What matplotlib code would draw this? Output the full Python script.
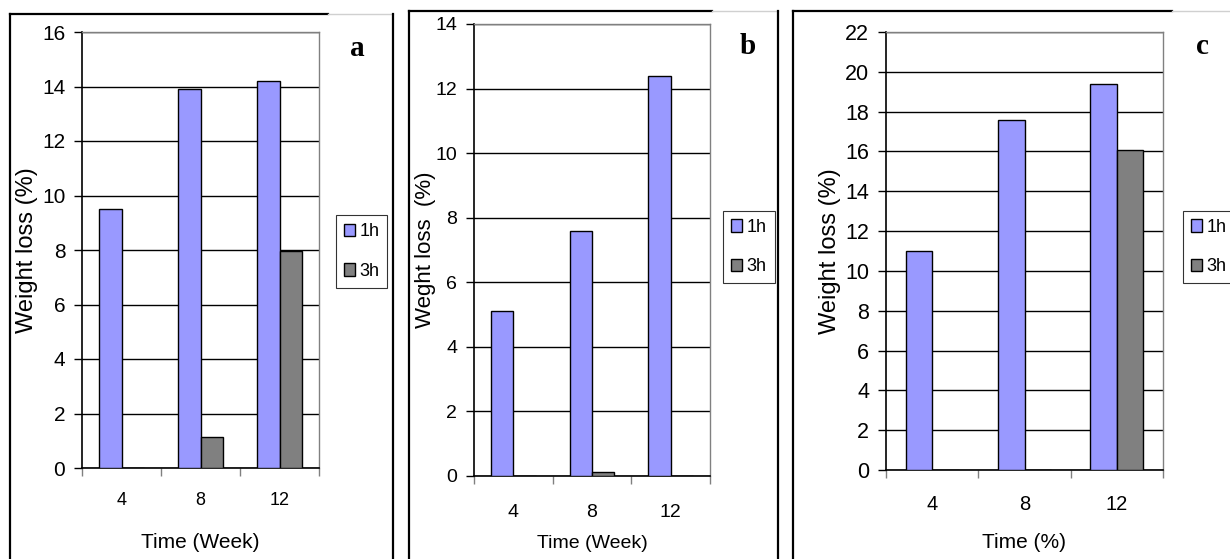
#!/usr/bin/env python3
"""Weight loss (%) vs time for three samples, panels a, b, c."""

import matplotlib

matplotlib.use("Agg")
import matplotlib.pyplot as plt
from matplotlib.lines import Line2D
from matplotlib.patches import Patch

plt.rcParams["font.family"] = ["Liberation Sans", "DejaVu Sans"]

# data
weeks = ["4", "8", "12"]
series_names = ["1h", "3h"]

a_1h = [9.5, 13.9, 14.2]
a_3h = [0.0, 1.15, 7.95]

b_1h = [5.1, 7.6, 12.4]
b_3h = [0.0, 0.12, 0.0]

c_1h = [11.0, 17.6, 19.4]
c_3h = [0.0, 0.0, 16.05]

W, H = 1230, 559
BLUE = "#9999FF"
GREY = "#808080"


def fx(px):
    return px / W


def fy(py):
    return 1 - py / H


def add_panel(fig, box, v1, v2, ymax, ylabel, xlabel, letter, letter_xy,
              legend_box, ylabel_x, xtick_y, xlabel_y, sizes):
    left, top, right, bottom = box
    ytick_fs, ylabel_fs, xtick_fs, xlabel_fs = sizes
    ax_w, ax_h = right - left, bottom - top
    ax = fig.add_axes([fx(left), fy(bottom), ax_w / W, ax_h / H])
    x = list(range(len(weeks)))
    w = 1 / 3.5
    ax.bar([i - w / 2 for i in x], v1, width=w, color=BLUE, edgecolor="black",
           linewidth=1.0, zorder=3)
    ax.bar([i + w / 2 for i in x], v2, width=w, color=GREY, edgecolor="black",
           linewidth=1.0, zorder=3)

    ax.set_xlim(-0.5, len(weeks) - 0.5)
    ax.set_ylim(0, ymax)
    ax.set_yticks(range(0, ymax + 1, 2))
    ax.yaxis.grid(True, color="black", linewidth=1.0, zorder=0)
    ax.set_axisbelow(True)

    # category boundaries get the tick marks, labels sit in between
    ax.set_xticks([i - 0.5 for i in range(len(weeks) + 1)])
    ax.set_xticklabels([])
    ax.set_xticks(x, minor=True)
    ax.set_xticklabels(weeks, minor=True)
    # pad so that tick label centres land where the reference has them
    pad_px = (xtick_y - bottom) - xtick_fs * 100 / 72 * 0.6
    ax.tick_params(axis="x", which="minor", length=0, pad=pad_px * 72 / 100,
                   labelsize=xtick_fs)
    ax.tick_params(axis="x", which="major", length=6, width=1.0, color=GREY)
    ax.tick_params(axis="y", length=6, width=1.0, labelsize=ytick_fs, pad=6)

    for side in ("top", "right"):
        ax.spines[side].set_color(GREY)
        ax.spines[side].set_linewidth(1.0)
    for side in ("left", "bottom"):
        ax.spines[side].set_color("black")
        ax.spines[side].set_linewidth(1.2)

    ax.set_ylabel(ylabel, fontsize=ylabel_fs, va="center")
    ax.yaxis.set_label_coords((ylabel_x - left) / ax_w, 0.5)
    ax.set_xlabel(xlabel, fontsize=xlabel_fs, va="center")
    ax.xaxis.set_label_coords(0.5, (bottom - xlabel_y) / ax_h)

    fig.text(fx(letter_xy[0]), fy(letter_xy[1]), letter, family="Liberation Serif",
             fontweight="bold", fontsize=21, ha="center", va="center")

    handles = [Patch(facecolor=BLUE, edgecolor="black"),
               Patch(facecolor=GREY, edgecolor="black")]
    lx0, ly0, lx1, ly1 = legend_box
    leg = fig.legend(handles, series_names, loc="center",
                     bbox_to_anchor=(fx((lx0 + lx1) / 2), fy((ly0 + ly1) / 2)),
                     fontsize=13, frameon=True, fancybox=False, handlelength=0.6,
                     handleheight=0.7, handletextpad=0.25, labelspacing=1.25,
                     borderpad=0.45, borderaxespad=0)
    leg.get_frame().set_edgecolor("black")
    leg.get_frame().set_linewidth(0.8)
    return ax


def frame(fig, left, right, top, black_end, draw_right=True):
    kw = dict(transform=fig.transFigure, color="black", linewidth=1.6)
    fig.add_artist(Line2D([fx(left), fx(left)], [fy(top), 0], **kw))
    fig.add_artist(Line2D([fx(left), fx(black_end)], [fy(top), fy(top)], **kw))
    fig.add_artist(Line2D([fx(black_end), fx(right)], [fy(top), fy(top)],
                          transform=fig.transFigure, color="#d0d0d0", linewidth=1.0))
    if draw_right:
        fig.add_artist(Line2D([fx(right), fx(right)], [fy(top), 0], **kw))


def main():
    fig = plt.figure(figsize=(W / 100, H / 100), dpi=100)
    fig.patch.set_facecolor("white")

    add_panel(fig, (82, 32, 319, 468), a_1h, a_3h, 16, "Weight loss (%)",
              "Time (Week)", "a", (357, 48), (335, 211, 388, 292),
              ylabel_x=27, xtick_y=503, xlabel_y=542, sizes=(15, 17, 13, 15))
    add_panel(fig, (474, 24, 710, 476), b_1h, b_3h, 14, "Weght loss  (%)",
              "Time (Week)", "b", (748, 46), (726, 208, 772, 286),
              ylabel_x=425, xtick_y=516, xlabel_y=543, sizes=(14, 16, 14, 14))
    add_panel(fig, (886, 32, 1163, 470), c_1h, c_3h, 22, "Weight loss (%)",
              "Time (%)", "c", (1202, 46), (1181, 208, 1236, 286),
              ylabel_x=830, xtick_y=507, xlabel_y=543, sizes=(15.5, 17, 14.5, 15))

    frame(fig, 10, 393, 14, 328)
    frame(fig, 409, 778, 11, 712)
    frame(fig, 793, 1240, 11, 1172, draw_right=False)

    fig.savefig("out.png", dpi=100)
    plt.close(fig)


if __name__ == "__main__":
    main()
